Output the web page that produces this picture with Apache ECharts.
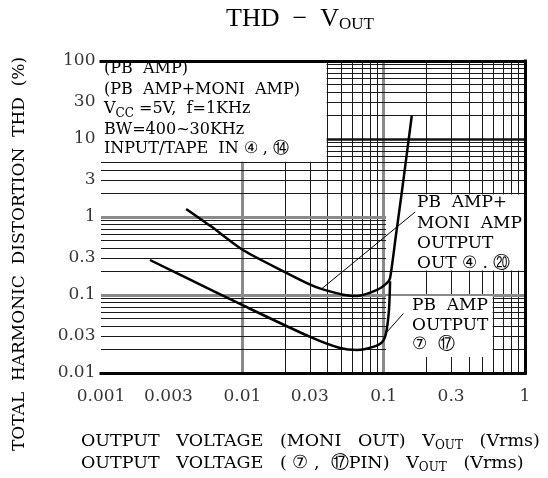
<!DOCTYPE html>
<html><head><meta charset="utf-8">
<script src="https://cdn.jsdelivr.net/npm/echarts@6/dist/echarts.min.js"></script>
<style>html,body{margin:0;padding:0;background:#fff}#c{width:548px;height:478px}</style>
</head><body><div id="c"></div>
<script>
// ---- axis ticks ----
const xTickValues = [0.001, 0.003, 0.01, 0.03, 0.1, 0.3, 1];
const xTickLabels = ['0.001', '0.003', '0.01', '0.03', '0.1', '0.3', '1'];
const yTickValues = [0.01, 0.03, 0.1, 0.3, 1, 3, 10, 30, 100];
const yTickLabels = ['0.01', '0.03', '0.1', '0.3', '1', '3', '10', '30', '100'];
// log-paper grid: mantissas 1..9 in each decade
const gridMantissas = [1, 2, 3, 4, 5, 6, 7, 8, 9];
const xDecadeExps = [-3, -2, -1];
const yDecadeExps = [-2, -1, 0, 1];

// ---- series: PB AMP + MONI AMP (output OUT 4, 20) ----
const moniVout = [0.0040, 0.0060, 0.0101, 0.0200, 0.0302, 0.0366, 0.0516, 0.0648, 0.0898, 0.1057, 0.111, 0.1216, 0.134, 0.147, 0.158];
const moniThd  = [1.27,   0.76,   0.378,  0.197,  0.136,  0.119,  0.101,  0.097,  0.116,  0.143,  0.165, 0.55,   2.0,   7.2,   19.7];
// ---- series: PB AMP (output 7, 17) ----
const pbVout = [0.00222, 0.00427, 0.00963, 0.0302, 0.0491, 0.0648, 0.0842, 0.0975, 0.104, 0.109, 0.111];
const pbThd  = [0.281,   0.157,   0.0767,  0.029,  0.0209, 0.0197, 0.0216, 0.0249, 0.0326, 0.064, 0.150];

// ---- annotation boxes (white areas over the grid), in data units [x0,y0,x1,y1] ----
const conditionBox = [0.001, 5.1, 0.0395, 100];
const moniNoteBox = [0.104, 0.206, 1, 1.94];
const pbNoteBox = [0.104, 0.016, 0.59, 0.097];
// ---- arrows [fromX, fromY, toX, toY] ----
const moniArrow = [0.167, 1.16, 0.0366, 0.121];
const pbArrow = [0.138, 0.058, 0.104, 0.0326];

const serif = 'DejaVu Serif';
const black = '#000';

function lineVals(exps) {
  const out = [];
  exps.forEach(k => gridMantissas.forEach(m => out.push(+(m * Math.pow(10, k)).toPrecision(3))));
  return out;
}
const xGrid = lineVals(xDecadeExps).concat([1]);
const yGrid = lineVals(yDecadeExps).concat([100]);
function isDecade(v) { return Math.abs(Math.log10(v) - Math.round(Math.log10(v))) < 1e-6; }

const gridLines = [];
xGrid.forEach(v => {
  gridLines.push({
    xAxis: v,
    lineStyle: isDecade(v) ? { color: '#8a8a8a', width: 3, type: 'solid' } : { color: '#1a1a1a', width: 1, type: 'solid' }
  });
});
yGrid.forEach(v => {
  let ls = { color: '#1a1a1a', width: 1, type: 'solid' };
  if (isDecade(v)) ls = (Math.abs(v - 10) < 1e-6) ? { color: '#111', width: 2.5, type: 'solid' } : { color: '#8a8a8a', width: 3, type: 'solid' };
  gridLines.push({ yAxis: v, lineStyle: ls });
});

function box(b) { return [{ xAxis: b[0], yAxis: b[1] }, { xAxis: b[2], yAxis: b[3] }]; }
function arrow(a) { return [{ coord: [a[0], a[1]] }, { coord: [a[2], a[3]] }]; }
function pairs(xs, ys) { return xs.map((x, i) => [x, ys[i]]); }

const subRich = (fs, pad) => ({ sub: { fontFamily: serif, fontSize: fs, padding: [pad, 0, 0, 0], verticalAlign: 'bottom', fill: black } });
function txt(x, y, text, opts) {
  opts = opts || {};
  return {
    type: 'text', x: x, y: y, z: 100, rotation: opts.rotation || 0,
    style: {
      text: text, fill: black, fontFamily: opts.font || serif, fontSize: opts.size || 16,
      align: opts.align || 'left', textAlign: opts.align || 'left',
      verticalAlign: 'middle', textVerticalAlign: 'middle',
      rich: opts.rich || subRich(12, 9)
    }
  };
}
const tickLabelStyle = { show: true, color: black, fontFamily: serif, fontSize: 17 };

const chart = echarts.init(document.getElementById('c'));
chart.setOption({
  animation: false,
  backgroundColor: '#fff',
  grid: { left: 101, right: 23, top: 61, bottom: 105, show: false },
  xAxis: { type: 'log', logBase: 10, min: 0.001, max: 1, axisLine: { show: false }, axisTick: { show: false }, axisLabel: { show: false }, splitLine: { show: false } },
  yAxis: { type: 'log', logBase: 10, min: 0.01, max: 100, axisLine: { show: false }, axisTick: { show: false }, axisLabel: { show: false }, splitLine: { show: false } },
  series: [
    { type: 'line', name: 'grid', data: [], z: 1, silent: true,
      markLine: { z: 1, silent: true, symbol: ['none', 'none'], label: { show: false }, animation: false, data: gridLines } },
    { type: 'line', name: 'boxes', data: [], z: 2, silent: true,
      markArea: { z: 2, silent: true, itemStyle: { color: '#fff', opacity: 1 }, label: { show: false },
        data: [box(conditionBox), box(moniNoteBox), box(pbNoteBox)] } },
    { type: 'line', name: 'PB AMP+MONI AMP', data: pairs(moniVout, moniThd), z: 3, showSymbol: false, smooth: 0.25,
      lineStyle: { color: black, width: 2.5 }, itemStyle: { color: black } },
    { type: 'line', name: 'PB AMP', data: pairs(pbVout, pbThd), z: 3, showSymbol: false, smooth: 0.25,
      lineStyle: { color: black, width: 2.5 }, itemStyle: { color: black } },
    { type: 'line', name: 'arrows', data: [], z: 4, silent: true,
      markLine: { z: 4, silent: true, symbol: ['none', 'arrow'], symbolSize: [0, 9], label: { show: false },
        lineStyle: { color: black, width: 1, type: 'solid' },
        data: [arrow(moniArrow), arrow(pbArrow)] } },
    { type: 'line', name: 'frame', data: [], z: 6, silent: true,
      markLine: { z: 6, silent: true, symbol: ['none', 'none'], label: { show: false },
        lineStyle: { color: black, width: 3, type: 'solid', cap: 'square' },
        data: [{ xAxis: 0.001 }, { xAxis: 1 }, { yAxis: 0.01 }, { yAxis: 100 }] } },
    { type: 'scatter', name: 'xTicks', z: 7, silent: true, clip: false, symbolSize: 1,
      itemStyle: { color: 'rgba(0,0,0,0)' },
      data: xTickValues.map((v, i) => ({ value: [v, 0.01], label: Object.assign({ formatter: xTickLabels[i] }, tickLabelStyle) })),
      label: { show: true, position: 'bottom', distance: 15 }, labelLayout: { hideOverlap: false } },
    { type: 'scatter', name: 'yTicks', z: 7, silent: true, clip: false, symbolSize: 1,
      itemStyle: { color: 'rgba(0,0,0,0)' },
      data: yTickValues.map((v, i) => ({ value: [0.001, v], label: Object.assign({ formatter: yTickLabels[i] }, tickLabelStyle) })),
      label: { show: true, position: 'left', distance: 5 }, labelLayout: { hideOverlap: false } }
  ],
  graphic: [
    txt(300, 19, 'THD  −  V{sub|OUT}', { font: 'Liberation Serif', size: 26, align: 'center', rich: { sub: { fontFamily: 'Liberation Serif', fontSize: 17, padding: [12, 0, 0, 0], verticalAlign: 'bottom', fill: black } } }),
    txt(20, 254, 'TOTAL  HARMONIC  DISTORTION  THD  (%)', { size: 17, align: 'center', rotation: Math.PI / 2 }),
    txt(81, 441, 'OUTPUT   VOLTAGE   (MONI   OUT)   V{sub|OUT}   (Vrms)', { size: 17.5, rich: subRich(12, 9) }),
    txt(81, 463, 'OUTPUT   VOLTAGE   ( ⑦ ,  ⑰PIN)   V{sub|OUT}   (Vrms)', { size: 17.5, rich: subRich(12, 9) }),
    txt(104, 69, '(PB  AMP)'),
    txt(104, 90, '(PB  AMP+MONI  AMP)'),
    txt(104, 109, 'V{sub|CC} =5V,  f=1KHz'),
    txt(104, 130, 'BW=400~30KHz'),
    txt(104, 149, 'INPUT/TAPE  IN ④ , ⑭'),
    txt(417, 203, 'PB  AMP+', { size: 17 }),
    txt(417, 224, 'MONI  AMP', { size: 17 }),
    txt(417, 244, 'OUTPUT', { size: 17 }),
    txt(417, 264, 'OUT ④ . ⑳', { size: 17 }),
    txt(412, 306, 'PB  AMP', { size: 17 }),
    txt(412, 326, 'OUTPUT', { size: 17 }),
    txt(412, 345, '⑦  ⑰', { size: 17 })
  ]
});
</script></body></html>
